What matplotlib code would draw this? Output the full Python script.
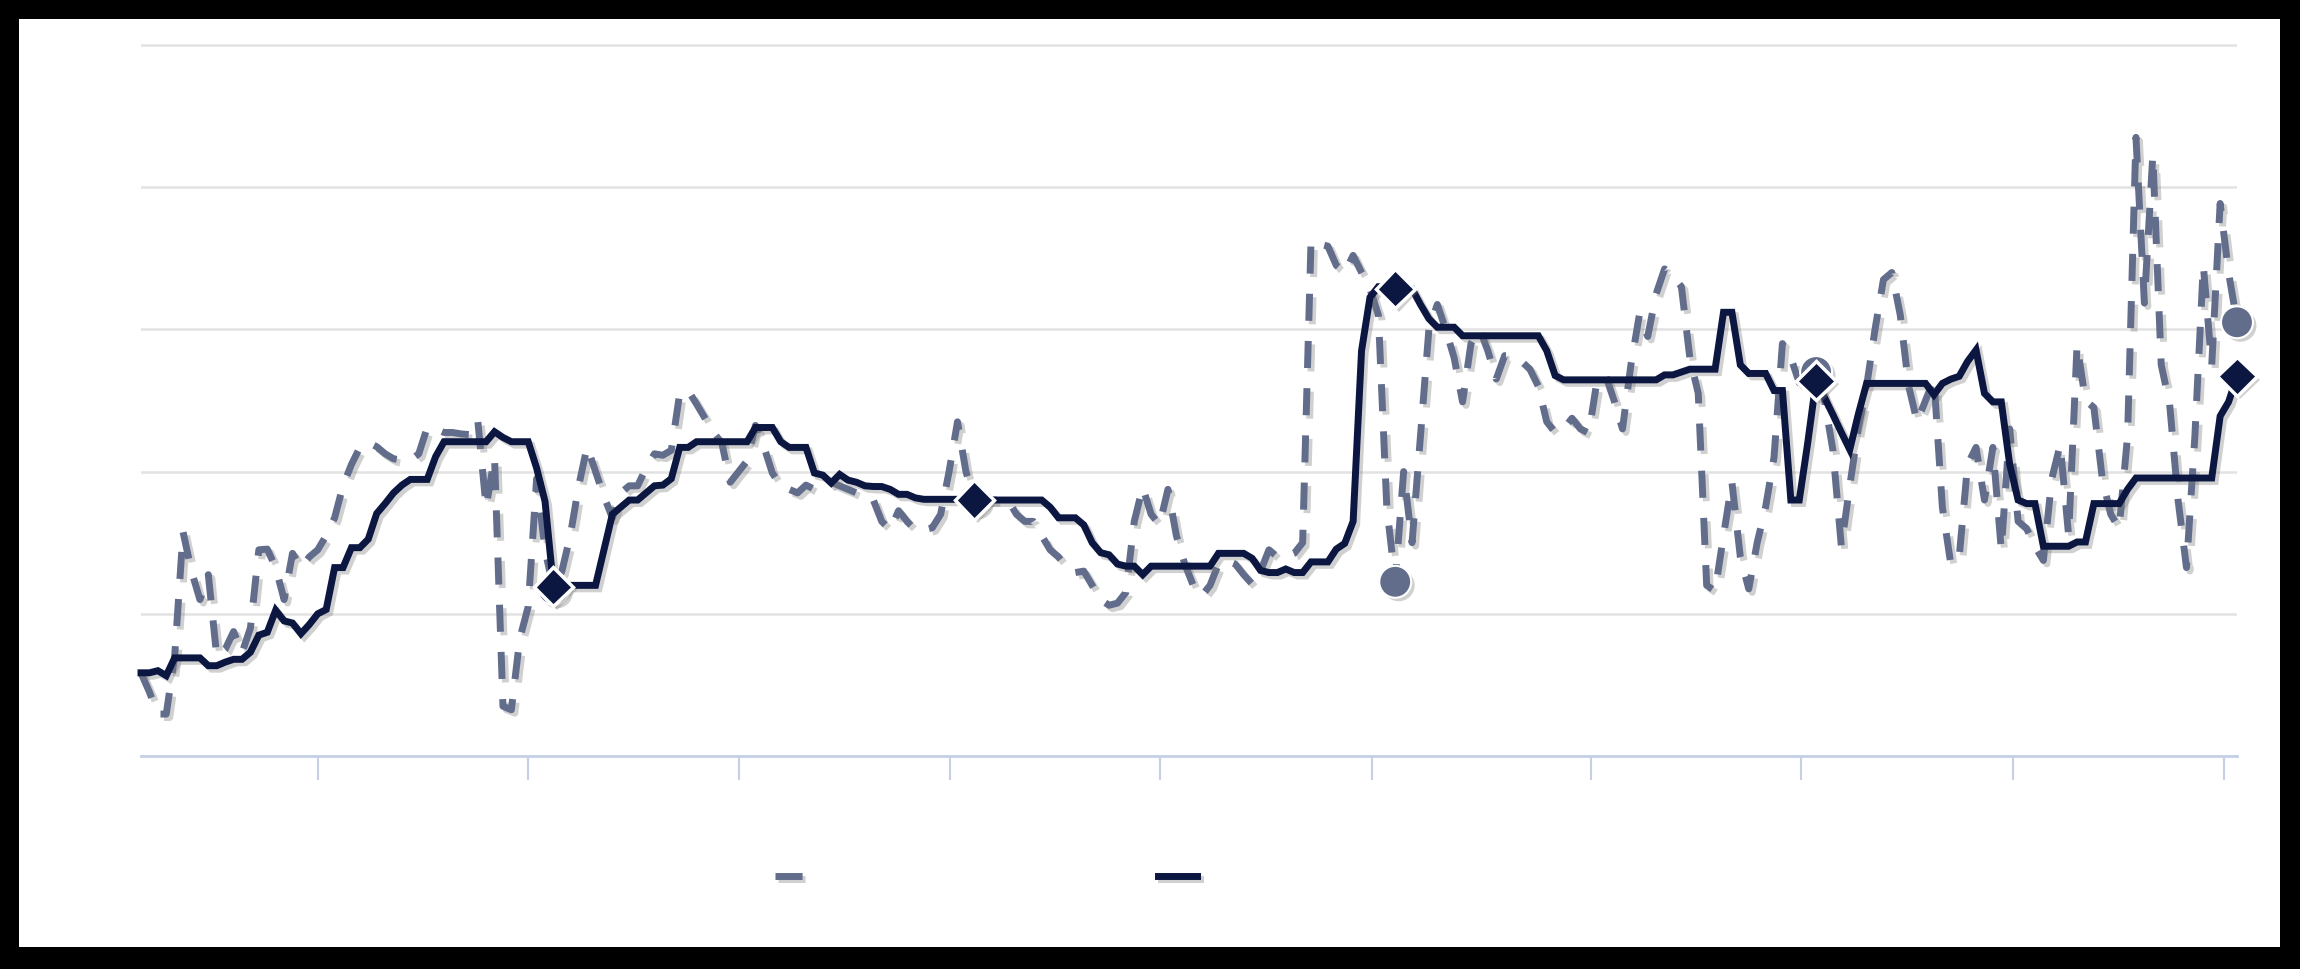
import matplotlib
matplotlib.use("Agg")
import matplotlib.pyplot as plt
import matplotlib.patheffects as pe
from matplotlib.lines import Line2D
from matplotlib.patches import Rectangle
import numpy as np

# daily values (no text in the picture)
series_a = [  # dashed, slate grey
    11.7, 9.0, 5.9, 5.9, 14.0, 31.5, 26.0, 22.0, 25.5, 14.0,
    15.0, 17.5, 14.5, 18.0, 29.0, 29.1, 26.5, 22.0, 28.5, 26.5,
    28.0, 29.0, 31.0, 33.5, 38.0, 41.0, 43.4, 44.1, 43.5, 42.5,
    41.8, 41.6, 41.6, 42.5, 46.2, 46.0, 45.5, 45.5, 45.3, 45.2,
    47.3, 35.0, 42.0, 7.0, 6.5, 16.5, 21.0, 39.0, 29.0, 23.5,
    26.0, 31.0, 38.0, 43.5, 40.0, 36.5, 33.5, 37.0, 38.0, 38.0,
    40.5, 42.5, 42.3, 43.0, 51.0, 51.4, 49.5, 47.5, 45.5, 44.0,
    38.5, 40.0, 41.5, 46.5, 43.5, 39.8, 38.0, 37.5, 37.0, 38.1,
    37.5, 38.0, 38.5, 38.0, 37.5, 37.0, 36.8, 36.0, 33.0, 31.8,
    34.5, 33.0, 31.8, 31.8, 32.1, 34.0, 40.0, 47.0, 40.0, 36.0,
    36.0, 36.0, 36.0, 36.0, 34.0, 33.0, 33.0, 31.0, 29.0, 28.0,
    26.5, 25.8, 26.0, 24.0, 22.0, 21.2, 21.5, 23.0, 33.0, 37.8,
    34.0, 32.5, 37.5, 31.0, 27.0, 24.0, 22.5, 24.0, 27.0, 27.5,
    27.0, 25.5, 24.2, 26.0, 29.0, 28.0, 28.0, 28.5, 30.0, 72.5,
    72.0, 71.7, 69.0, 68.0, 70.4, 68.0, 65.7, 62.0, 35.0, 24.5,
    40.0, 30.0, 45.0, 60.0, 63.5, 60.0, 56.0, 49.8, 58.0, 60.1,
    57.0, 53.0, 56.3, 56.3, 55.5, 54.4, 52.0, 47.0, 45.5, 46.0,
    47.5, 46.0, 45.4, 53.0, 53.5, 50.0, 46.0, 55.0, 62.0, 59.0,
    65.0, 68.5, 67.5, 66.0, 56.0, 51.0, 24.0, 23.2, 31.0, 38.5,
    28.0, 23.5, 30.0, 35.0, 42.0, 58.0, 56.0, 52.5, 53.0, 54.0,
    50.0, 43.0, 29.5, 38.0, 46.0, 52.0, 60.0, 67.0, 68.0, 62.0,
    52.0, 47.0, 50.0, 53.0, 35.0, 27.0, 28.0, 41.0, 43.4, 36.0,
    43.4, 29.0, 46.0, 33.0, 32.0, 29.5, 27.5, 39.0, 43.8, 31.0,
    57.8, 50.0, 49.0, 39.0, 34.0, 32.0, 45.0, 87.0, 63.7, 84.5,
    55.0, 49.5, 36.0, 26.5, 45.0, 69.0, 55.0, 77.7, 68.0, 61.0,
]
series_b = [  # solid, navy
    11.7, 11.7, 12.0, 11.3, 13.8, 13.8, 13.8, 13.8, 12.7, 12.7,
    13.2, 13.6, 13.6, 14.6, 17.0, 17.4, 20.5, 19.0, 18.7, 17.2,
    18.5, 20.0, 20.6, 26.5, 26.5, 29.3, 29.3, 30.5, 34.1, 35.5,
    37.0, 38.1, 38.9, 38.9, 38.9, 42.1, 44.2, 44.2, 44.2, 44.2,
    44.2, 44.2, 45.6, 44.8, 44.2, 44.2, 44.2, 40.5, 35.8, 23.8,
    24.0, 24.0, 24.0, 24.0, 24.0, 29.0, 34.0, 35.0, 36.0, 36.0,
    37.0, 38.0, 38.1, 39.0, 43.4, 43.4, 44.2, 44.2, 44.2, 44.2,
    44.2, 44.2, 44.2, 46.2, 46.2, 46.2, 44.2, 43.4, 43.4, 43.4,
    39.8, 39.5, 38.4, 39.6, 38.8, 38.5, 38.0, 37.9, 37.9, 37.5,
    36.8, 36.8, 36.3, 36.1, 36.1, 36.1, 36.1, 36.1, 36.0, 36.0,
    36.0, 36.0, 36.0, 36.0, 36.0, 36.0, 36.0, 36.0, 35.0, 33.5,
    33.5, 33.5, 32.5, 30.0, 28.6, 28.3, 27.0, 26.7, 26.7, 25.5,
    26.7, 26.7, 26.7, 26.7, 26.7, 26.7, 26.7, 26.7, 28.5, 28.5,
    28.5, 28.5, 27.8, 26.1, 25.8, 25.8, 26.3, 25.8, 25.8, 27.3,
    27.3, 27.3, 29.1, 29.9, 33.0, 57.0, 64.5, 66.0, 66.0, 65.7,
    65.7, 65.7, 63.5, 61.5, 60.3, 60.3, 60.3, 59.1, 59.1, 59.1,
    59.1, 59.1, 59.1, 59.1, 59.1, 59.1, 59.1, 57.0, 53.5, 52.9,
    52.9, 52.9, 52.9, 52.9, 52.9, 52.9, 52.9, 52.9, 52.9, 52.9,
    52.9, 53.6, 53.6, 54.0, 54.4, 54.4, 54.4, 54.4, 62.4, 62.4,
    55.0, 53.8, 53.8, 53.8, 51.4, 51.4, 36.0, 36.0, 44.0, 52.8,
    50.4, 48.0, 45.5, 43.1, 48.0, 52.4, 52.4, 52.4, 52.4, 52.4,
    52.4, 52.4, 52.4, 50.8, 52.4, 53.0, 53.4, 55.5, 57.1, 51.0,
    49.8, 49.8, 41.0, 36.0, 35.5, 35.5, 29.5, 29.5, 29.5, 29.5,
    30.1, 30.1, 35.5, 35.5, 35.5, 35.5, 37.5, 39.1, 39.1, 39.1,
    39.1, 39.1, 39.1, 39.1, 39.1, 39.1, 39.1, 47.8, 49.8, 53.4,
]
tick_pos = [21, 46, 71.1, 96.1, 121, 146.3, 172.2, 197.2, 222.4, 247.4]
y_grid = [0, 20, 40, 60, 80, 100]

GREY = "#626d8c"
NAVY = "#0b1641"
AXIS = "#c6d0e5"
LW = 5.0

x = np.arange(len(series_a))
ya = np.array(series_a)
yb = np.array(series_b)
mk = slice(49, None, 50)

fig = plt.figure(figsize=(23, 9.69), dpi=100, facecolor="black")
fig.patches.append(Rectangle((19 / 2300, 22 / 969), 2261 / 2300, 928 / 969,
                             transform=fig.transFigure, facecolor="white",
                             edgecolor="none", zorder=-5))
ax = fig.add_axes([0.0613, 0.2198, 0.9113, 0.7375])
ax.set_facecolor("none")

shadow = [pe.SimpleLineShadow(offset=(2.5, -2.5), shadow_color="#7a7a7a", alpha=0.35), pe.Normal()]
mshadow = [pe.SimplePatchShadow(offset=(2.5, -2.5), shadow_rgbFace="#7a7a7a", alpha=0.35), pe.Normal()]
dash = (0, (3.9, 2.9))

ax.plot(x, ya, color=GREY, lw=LW, ls=dash, dash_capstyle="butt",
        path_effects=shadow, zorder=3, clip_on=False)
ax.plot(x, yb, color=NAVY, lw=LW, solid_joinstyle="miter",
        path_effects=shadow, zorder=4, clip_on=False)
ax.plot(x[mk], ya[mk], ls="none", marker="o", ms=23, color=GREY,
        mec="white", mew=1.5, path_effects=mshadow, zorder=5, clip_on=False)
ax.plot(x[mk], yb[mk], ls="none", marker="D", ms=20, color=NAVY,
        mec="white", mew=2.5, path_effects=mshadow, zorder=6, clip_on=False)

ax.set_xlim(0, len(x) - 1)
ax.set_ylim(0, 100.5)
ax.set_yticks(y_grid)
ax.set_xticks(tick_pos)
ax.yaxis.grid(True, color="#e2e2e2", lw=1.8)
ax.set_axisbelow(True)
ax.tick_params(axis="y", length=0, labelleft=False)
ax.tick_params(axis="x", length=17, width=1.5, color=AXIS, labelbottom=False)
for s in ["top", "right", "left"]:
    ax.spines[s].set_visible(False)
ax.spines["bottom"].set_color(AXIS)
ax.spines["bottom"].set_linewidth(2)

handles = [
    Line2D([], [], color=GREY, lw=LW, ls=dash, dash_capstyle="butt", path_effects=shadow),
    Line2D([], [], color=NAVY, lw=LW, path_effects=shadow),
]
fig.legend(handles, ["", ""], ncol=2, frameon=False, fontsize=14,
           handlelength=2.0, handletextpad=0.8, columnspacing=16.9,
           loc="center left", bbox_to_anchor=(0.3293, 0.095))

fig.savefig("out.png", dpi=100, facecolor=fig.get_facecolor())
